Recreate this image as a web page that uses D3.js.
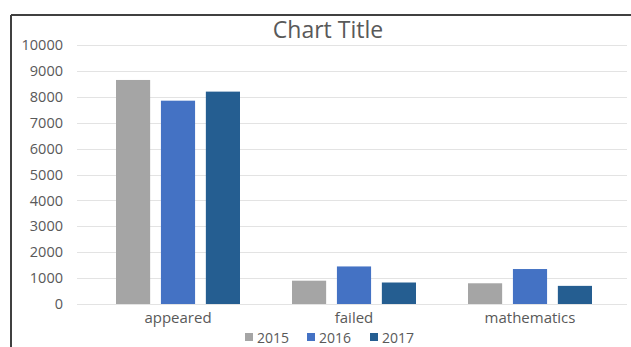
<!DOCTYPE html>
<html>
<head>
<meta charset="utf-8">
<script src="https://cdn.jsdelivr.net/npm/d3@7"></script>
<style>
  body { margin: 0; background: #fff; }
  text { font-family: "Open Sans", "Liberation Sans", sans-serif; }
</style>
</head>
<body>
<div id="chart"></div>
<script>
// data
const categories = ["appeared", "failed", "mathematics"];
const years = ["2015", "2016", "2017"];
const values2015 = [8650, 900, 800];
const values2016 = [7850, 1450, 1350];
const values2017 = [8200, 830, 700];
const yTicks = [0, 1000, 2000, 3000, 4000, 5000, 6000, 7000, 8000, 9000, 10000];

const colors = ["#a5a5a5", "#4472c4", "#255e91"];
const series = [values2015, values2016, values2017];

const W = 631, H = 347;
const svg = d3.select("#chart").append("svg")
    .attr("width", W).attr("height", H);

// frame (only top + left visible in the crop)
svg.append("line").attr("x1", 11).attr("x2", W).attr("y1", 15).attr("y2", 15)
    .attr("stroke", "#404040").attr("stroke-width", 2);
svg.append("line").attr("x1", 11).attr("x2", 11).attr("y1", 15).attr("y2", H)
    .attr("stroke", "#404040").attr("stroke-width", 2);

const plotLeft = 77, plotRight = 627;
const y = d3.scaleLinear().domain([0, 10000]).range([304, 45]);

const x0 = d3.scaleBand().domain(categories).range([90, 618]).paddingInner(0).paddingOuter(0);
const x1 = d3.scaleBand().domain(years).range([26, x0.bandwidth() - 26]).paddingInner(0.24);

// gridlines
svg.append("g").selectAll("line")
    .data(yTicks)
    .join("line")
    .attr("x1", plotLeft).attr("x2", plotRight)
    .attr("y1", d => Math.round(y(d)) + 0.5).attr("y2", d => Math.round(y(d)) + 0.5)
    .attr("stroke", "#e3e3e3").attr("stroke-width", 1);

// y axis labels
const yAxis = svg.append("g")
    .attr("transform", "translate(" + (plotLeft - 14) + ",0)")
    .call(d3.axisLeft(y).tickValues(yTicks).tickSize(0).tickPadding(0).tickFormat(d3.format("d")));
yAxis.select(".domain").remove();
yAxis.selectAll("text")
    .style("font-family", "'Open Sans', 'Liberation Sans', sans-serif")
    .attr("font-size", 14.5).attr("fill", "#595959");

// bars
const groups = svg.append("g").selectAll("g")
    .data(categories)
    .join("g")
    .attr("transform", d => "translate(" + x0(d) + ",0)");

groups.selectAll("rect")
    .data((d, i) => years.map((yr, j) => ({ yr: yr, v: series[j][i], c: colors[j] })))
    .join("rect")
    .attr("x", d => x1(d.yr))
    .attr("width", x1.bandwidth())
    .attr("y", d => y(d.v))
    .attr("height", d => y(0) - y(d.v))
    .attr("fill", d => d.c);

// x axis labels
const xAxis = svg.append("g")
    .attr("transform", "translate(0," + (y(0) + 8) + ")")
    .call(d3.axisBottom(x0).tickSize(0).tickPadding(0));
xAxis.select(".domain").remove();
xAxis.selectAll("text")
    .style("font-family", "'Open Sans', 'Liberation Sans', sans-serif")
    .attr("font-size", 15).attr("fill", "#595959");

// title
svg.append("text")
    .attr("x", 328).attr("y", 38)
    .attr("text-anchor", "middle")
    .attr("font-size", 23)
    .attr("fill", "#595959")
    .text("Chart Title");

// legend
const legendX = [245, 307, 370];
const legend = svg.append("g").selectAll("g")
    .data(years)
    .join("g")
    .attr("transform", (d, i) => "translate(" + legendX[i] + ",333)");
legend.append("rect")
    .attr("width", 8).attr("height", 8)
    .attr("fill", (d, i) => colors[i]);
legend.append("text")
    .attr("x", 12).attr("y", 9.5)
    .attr("font-size", 14).attr("fill", "#595959")
    .text(d => d);
</script>
</body>
</html>
